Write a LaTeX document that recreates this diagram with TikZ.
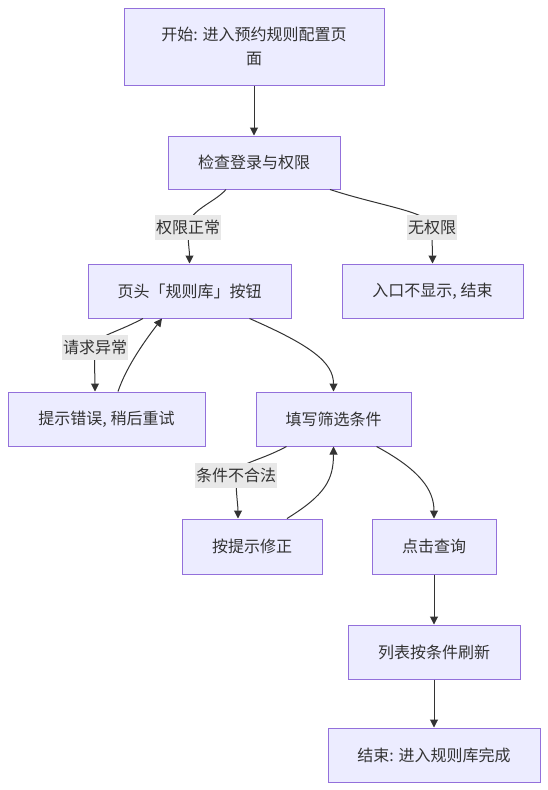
\documentclass[tikz,border=0pt]{standalone}
\usepackage{fontspec}
\setmainfont{Noto Sans CJK SC}
\usetikzlibrary{arrows.meta}
\definecolor{boxfill}{HTML}{ECECFF}
\definecolor{boxline}{HTML}{9370DB}
\definecolor{edgecol}{HTML}{333333}
\definecolor{lblbg}{HTML}{E8E8E8}
\definecolor{txt}{HTML}{333333}
\begin{document}
\begin{tikzpicture}[x=1pt,y=-1pt,
 box/.style={draw=boxline, fill=boxfill, line width=1pt, text=txt, font=\fontsize{16}{24}\selectfont, align=center, inner sep=0pt},
 lbl/.style={fill=lblbg, text=txt, font=\fontsize{16}{20}\selectfont, inner xsep=1pt, inner ysep=0pt, minimum height=25pt},
 conn/.style={draw=edgecol, line width=1pt, -{Triangle[length=8pt,width=8pt]}}]
\useasboundingbox (0,0) rectangle (548,790);
\node[box, minimum width=260pt, minimum height=77pt] (start) at (254,46.5) {开始: 进入预约规则配置页\\面};
\node[box, minimum width=172pt, minimum height=53pt] (check) at (254,162.5) {检查登录与权限};
\node[box, minimum width=203pt, minimum height=54pt] (header) at (189.5,291) {页头「规则库」按钮};
\node[box, minimum width=181pt, minimum height=54pt] (noentry) at (432.5,291) {入口不显示, 结束};
\node[box, minimum width=197pt, minimum height=54pt] (error) at (106.5,419) {提示错误, 稍后重试};
\node[box, minimum width=155pt, minimum height=54pt] (fill) at (333.5,419) {填写筛选条件};
\node[box, minimum width=140pt, minimum height=55pt] (fix) at (252,546.5) {按提示修正};
\node[box, minimum width=124pt, minimum height=55pt] (query) at (434,546.5) {点击查询};
\node[box, minimum width=172pt, minimum height=54pt] (refresh) at (434,652) {列表按条件刷新};
\node[box, minimum width=212pt, minimum height=54pt] (end) at (434,755) {结束: 进入规则库完成};
\coordinate (c1) at (188,227);
\coordinate (c2) at (432,227);
\coordinate (c3) at (95,347);
\coordinate (c4) at (236,475);
\draw[conn] (start) -- (check);
\draw[conn] ([xshift=-28pt]check.south) .. controls (214,203) and (189,210) .. (c1) .. controls (188,245) and (189.5,250) .. (header.north);
\draw[conn] ([xshift=76pt]check.south) .. controls (380,206) and (432,212) .. (c2) .. controls (432,245) and (432.5,250) .. (noentry.north);
\draw[conn] ([xshift=-46.5pt]header.south) .. controls (114,334) and (95,336) .. (c3) .. controls (94,365) and (95,375) .. ([xshift=-11.5pt]error.north);
\draw[conn] ([xshift=11.5pt]error.north) .. controls (127,365) and (147,338) .. ([xshift=-27.5pt]header.south);
\draw[conn] ([xshift=60pt]header.south) .. controls (310,345) and (333.5,362) .. (fill.north);
\draw[conn] ([xshift=-47pt]fill.south) .. controls (258,462) and (236,463) .. (c4) .. controls (236,495) and (238,505) .. ([xshift=-14pt]fix.north);
\draw[conn] ([xshift=35pt]fix.north) .. controls (325,495) and (333.5,480) .. (fill.south);
\draw[conn] ([xshift=43pt]fill.south) .. controls (420,470) and (434,490) .. (query.north);
\draw[conn] (query) -- (refresh);
\draw[conn] (refresh) -- (end);
\node[lbl] (l1) at (c1) {权限正常};
\node[lbl] (l2) at (c2) {无权限};
\node[lbl] (l3) at (c3) {请求异常};
\node[lbl] (l4) at (c4) {条件不合法};
\end{tikzpicture}
\end{document}
